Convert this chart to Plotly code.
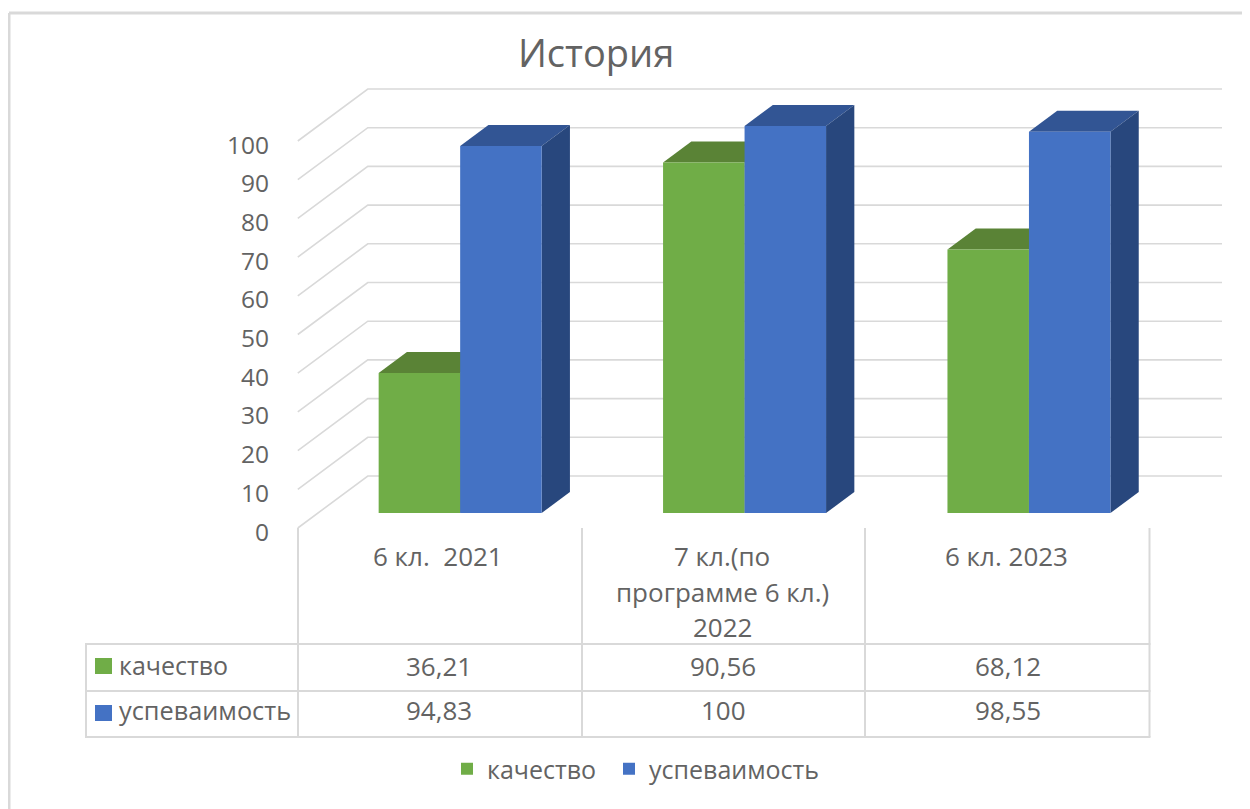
import plotly.graph_objects as go

TITLE = "История"
series_names = ["качество", "успеваимость"]
categories = [["6 кл.\u00a0 2021"], ["7 кл.(по", "программе 6 кл.)", "2022"], ["6 кл. 2023"]]
quality = [36.21, 90.56, 68.12]
progress = [94.83, 100, 98.55]
ticks = list(range(0, 101, 10))
tick_labels = [str(t) for t in ticks]

PAGE_W, PAGE_H = 1250, 809
MARGIN = 8  # the page body adds this margin round the figure
W, H = PAGE_W - MARGIN, PAGE_H - MARGIN
PX_PER_CAT = 284.4
PX_PER_UNIT = 3.87
CAT0_PX = 440.0
ZERO_BACK_PX = 476.0
DX = 70 / PX_PER_CAT
DY = 52 / PX_PER_UNIT
D_FRONT, D_BACK = 0.288, 0.692
BAR_W = 81.5 / PX_PER_CAT

GREEN, GREEN_TOP = "#70AD47", "#5A8336"
BLUE, BLUE_TOP, BLUE_SIDE = "#4472C4", "#325594", "#28477D"
GRID = "#D9D9D9"
TEXT = "#636363"
FONT = "Open Sans"
FS = 25
FS_CELL = 26
TICK_NUDGE = 4 / PX_PER_UNIT


def fx(x):
    return (x - MARGIN) / W


def fy(y):
    return 1 - (y - MARGIN) / H


def proj(i, v, d):
    return i + d * DX, v - (1 - d) * DY


def poly(points, color):
    path = "M" + " L".join(f"{x:.5f},{y:.5f}" for x, y in points) + " Z"
    return dict(type="path", xref="x", yref="y", path=path, fillcolor=color,
                line=dict(width=0), layer="below")


def px_line(x0, y0, x1, y1, width=2):
    return dict(type="line", xref="paper", yref="paper",
                x0=fx(x0), x1=fx(x1), y0=fy(y0), y1=fy(y1),
                line=dict(color=GRID, width=width), layer="below")


def px_rect(x0, y0, x1, y1, color):
    return dict(type="rect", xref="paper", yref="paper",
                x0=fx(x0), x1=fx(x1), y0=fy(y0), y1=fy(y1),
                fillcolor=color, line=dict(width=0))


shapes = []
# Outer frame (top and left edges only)
shapes += [px_line(9, 13, PAGE_W, 13, 3), px_line(9, 13, 9, PAGE_H, 3)]

# Gridlines: side wall + back wall, projected through the data axes
x_right_back = (1222 - CAT0_PX) / PX_PER_CAT
for t in ticks:
    xa, ya = proj(-0.5, t, 0)
    xb, yb = proj(-0.5, t, 1)
    shapes.append(dict(type="path", xref="x", yref="y",
                       path=f"M{xa:.5f},{ya:.5f} L{xb:.5f},{yb:.5f} L{x_right_back:.5f},{yb:.5f}",
                       line=dict(color=GRID, width=1.6), layer="below"))

# 3-D faces of the bars
for i in range(3):
    for vals, sign, top, side in ((quality, -1, GREEN_TOP, GREEN_TOP), (progress, 1, BLUE_TOP, BLUE_SIDE)):
        v = vals[i]
        left = i - BAR_W if sign < 0 else i
        right = left + BAR_W
        shapes.append(poly([proj(left, v, D_FRONT), proj(right, v, D_FRONT),
                            proj(right, v, D_BACK), proj(left, v, D_BACK)], top))
        shapes.append(poly([proj(right, 0, D_FRONT), proj(right, v, D_FRONT),
                            proj(right, v, D_BACK), proj(right, 0, D_BACK)], side))

# Data table grid
for x in (298, 582, 865, 1149.5):
    shapes.append(px_line(x, 528, x, 737))
shapes.append(px_line(86, 644, 86, 737))
for y in (644, 691, 737):
    shapes.append(px_line(85, y, 1150.5, y))
# Table legend keys
shapes.append(px_rect(95, 658, 112, 674, GREEN))
shapes.append(px_rect(95, 705, 112, 721, BLUE))

annotations = []


def note(text, xp, yp, anchor="center", size=FS):
    annotations.append(dict(text=text, xref="paper", yref="paper", x=fx(xp), y=fy(yp),
                            xanchor=anchor, yanchor="middle", showarrow=False,
                            font=dict(family=FONT, size=size, color=TEXT)))


LINE_YS = (556, 592, 627)
for i, lines in enumerate(categories):
    for line, y in zip(lines, LINE_YS):
        note(line, CAT0_PX - 2 + PX_PER_CAT * i, y, size=FS_CELL)
fmt = lambda v: f"{v:g}".replace(".", ",")
for i in range(3):
    note(fmt(quality[i]), CAT0_PX - 1 + PX_PER_CAT * i, 666, size=FS_CELL)
    note(fmt(progress[i]), CAT0_PX - 1 + PX_PER_CAT * i, 710, size=FS_CELL)
note(series_names[0], 117, 665, "left")
note(series_names[1], 117, 710, "left", size=25.3)
note(TITLE, 596, 52, size=38)

fig = go.Figure()
bar_base = -(1 - D_FRONT) * DY
bar_x0 = D_FRONT * DX
xs = list(range(3))
fig.add_trace(go.Bar(x=[i + bar_x0 - BAR_W / 2 for i in xs], y=quality, base=bar_base, width=BAR_W,
                     name=series_names[0], marker=dict(color=GREEN, line=dict(width=0)),
                     legend="legend", showlegend=True))
fig.add_trace(go.Bar(x=[i + bar_x0 + BAR_W / 2 for i in xs], y=progress, base=bar_base, width=BAR_W,
                     name=series_names[1], marker=dict(color=BLUE, line=dict(width=0)),
                     legend="legend2", showlegend=True))

legend_common = dict(orientation="h", xanchor="left", yanchor="middle", y=fy(769),
                     font=dict(family=FONT, size=FS, color=TEXT), bgcolor="rgba(0,0,0,0)")

fig.update_layout(
    width=W, height=H, margin=dict(l=0, r=0, t=0, b=0), autosize=False,
    paper_bgcolor="white", plot_bgcolor="rgba(0,0,0,0)", barmode="overlay",
    shapes=shapes, annotations=annotations,
    font=dict(family=FONT, color=TEXT),
    legend=dict(x=fx(447), **legend_common),
    legend2=dict(x=fx(609), **legend_common),
    xaxis=dict(range=[(MARGIN - CAT0_PX) / PX_PER_CAT, (PAGE_W - CAT0_PX) / PX_PER_CAT], domain=[0, 1],
               visible=False, fixedrange=True),
    yaxis=dict(range=[(ZERO_BACK_PX - PAGE_H) / PX_PER_UNIT, (ZERO_BACK_PX - MARGIN) / PX_PER_UNIT], domain=[0, 1],
               tickmode="array", tickvals=[t - DY - TICK_NUDGE for t in ticks], ticktext=tick_labels,
               showgrid=False, zeroline=False, showline=False, ticks="", anchor="free",
               position=fx(269), tickfont=dict(family=FONT, size=24.5, color=TEXT), fixedrange=True),
)

fig.write_html("out.html", config=dict(displayModeBar=False))
